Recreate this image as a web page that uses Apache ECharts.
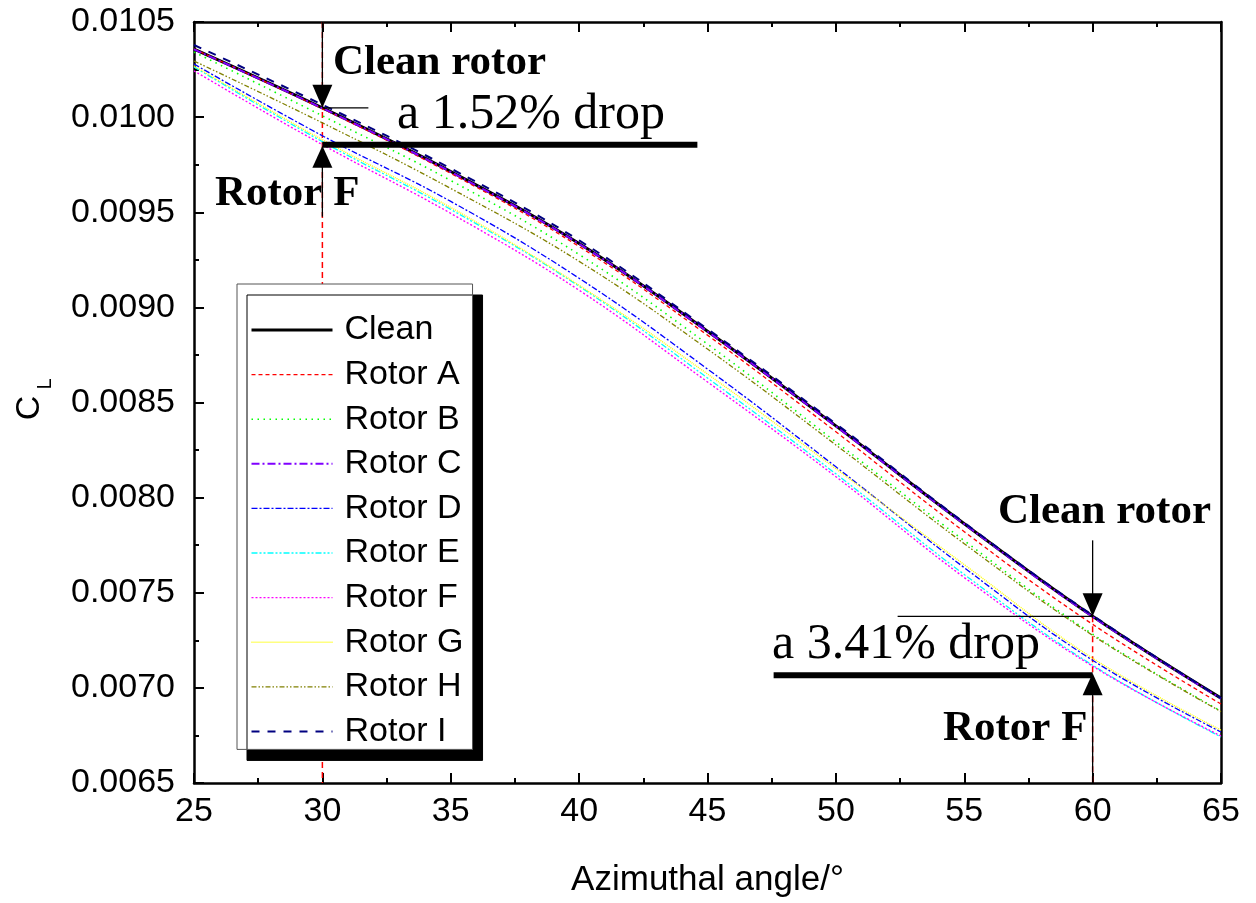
<!DOCTYPE html>
<html><head><meta charset="utf-8">
<script src="https://cdn.jsdelivr.net/npm/echarts@6/dist/echarts.min.js"></script>
<style>html,body{margin:0;padding:0;background:#fff;overflow:hidden}#c{width:1256px;height:903px}</style>
</head><body><div id="c"></div>
<script>
// Azimuthal angle (deg)
const angles = [25, 30, 35, 40, 45, 50, 55, 60, 65];
// Lift coefficient C_L per rotor
const clean  = [0.010358, 0.010049, 0.009714, 0.009336, 0.008875, 0.008377, 0.007863, 0.007376, 0.006946];
const rotorA = [0.010358, 0.010044, 0.009704, 0.009320, 0.008854, 0.008346, 0.007821, 0.007334, 0.006915];
const rotorB = [0.010342, 0.010007, 0.009667, 0.009278, 0.008807, 0.008293, 0.007774, 0.007282, 0.006878];
const rotorC = [0.010356, 0.010047, 0.009712, 0.009334, 0.008873, 0.008375, 0.007861, 0.007374, 0.006944];
const rotorD = [0.010279, 0.009902, 0.009557, 0.009153, 0.008676, 0.008162, 0.007632, 0.007145, 0.006768];
const rotorE = [0.010264, 0.009871, 0.009515, 0.009111, 0.008629, 0.008125, 0.007596, 0.007119, 0.006742];
const rotorF = [0.010243, 0.009855, 0.009494, 0.009090, 0.008608, 0.008110, 0.007580, 0.007114, 0.006747];
const rotorG = [0.010269, 0.009881, 0.009525, 0.009116, 0.008650, 0.008152, 0.007648, 0.007156, 0.006778];
const rotorH = [0.010295, 0.009970, 0.009625, 0.009242, 0.008781, 0.008277, 0.007758, 0.007276, 0.006875];
const rotorI = [0.010379, 0.010065, 0.009730, 0.009352, 0.008886, 0.008388, 0.007868, 0.007381, 0.006946];

const seriesNames = ['Clean','Rotor A','Rotor B','Rotor C','Rotor D','Rotor E','Rotor F','Rotor G','Rotor H','Rotor I'];
const seriesValues = [clean, rotorA, rotorB, rotorC, rotorD, rotorE, rotorF, rotorG, rotorH, rotorI];

const styles = [
  {color:'#000000', width:3,   type:'solid'},
  {color:'#ff0000', width:1.3, type:[4,3]},
  {color:'#00ff00', width:1.6, type:[1.5,4.5]},
  {color:'#8000ff', width:2,   type:[8,3,2,3]},
  {color:'#0000ff', width:1.3, type:[6,2,2,2]},
  {color:'#00ffff', width:1.3, type:[6,2,2,2,2,2]},
  {color:'#ff00ff', width:1.4, type:[2,2]},
  {color:'#ffff00', width:1.4, type:[1,1]},
  {color:'#808000', width:1.3, type:[5,2,1.5,2,1.5,2]},
  {color:'#000080', width:2,   type:[8,8]}
];

const SANS = '"Liberation Sans", Arial, sans-serif';
const SERIF = '"Liberation Serif", "Times New Roman", serif';

const chart = echarts.init(document.getElementById('c'), null, {renderer:'canvas'});

const axisCommon = {
  axisLine:{show:true, onZero:false, lineStyle:{color:'#000', width:2.5}},
  splitLine:{show:false}
};

chart.setOption({
  animation:false,
  backgroundColor:'#fff',
  grid:{left:194, right:35, top:22, bottom:118, containLabel:false},
  xAxis:[
    Object.assign({}, axisCommon, {
      type:'value', min:25, max:65, interval:5, position:'bottom',
      axisTick:{show:true, inside:true, length:10, lineStyle:{color:'#000', width:2}},
      minorTick:{show:true, splitNumber:2, length:5, lineStyle:{color:'#000', width:2}},
      axisLabel:{fontSize:34, color:'#000', margin:12, fontFamily:SANS},
      name:'Azimuthal angle/°', nameLocation:'middle', nameGap:80,
      nameTextStyle:{fontSize:35, color:'#000', fontFamily:SANS}
    }),
    Object.assign({}, axisCommon, {
      type:'value', min:25, max:65, interval:5, position:'top',
      axisTick:{show:true, inside:true, length:10, lineStyle:{color:'#000', width:2}},
      minorTick:{show:true, splitNumber:2, length:5, lineStyle:{color:'#000', width:2}},
      axisLabel:{show:false}
    })
  ],
  yAxis:[
    Object.assign({}, axisCommon, {
      type:'value', min:0.0065, max:0.0105, interval:0.0005, position:'left',
      axisTick:{show:true, inside:true, length:10, lineStyle:{color:'#000', width:2}},
      minorTick:{show:true, splitNumber:2, length:5, lineStyle:{color:'#000', width:2}},
      axisLabel:{fontSize:34, color:'#000', margin:19, fontFamily:SANS,
        formatter:v=>v.toFixed(4)}
    }),
    Object.assign({}, axisCommon, {
      type:'value', min:0.0065, max:0.0105, interval:0.0005, position:'right',
      axisTick:{show:false}, axisLabel:{show:false}
    })
  ],
  legend:{
    orient:'vertical', left:237, top:284,
    data:seriesNames.map((n,i)=>({name:n, lineStyle:{width:styles[i].width}})),
    itemWidth:81, itemHeight:14, itemGap:8.6,
    padding:[28,9,0,13],
    backgroundColor:'#fff', borderColor:'#555', borderWidth:1,
    shadowColor:'#000', shadowBlur:0, shadowOffsetX:10, shadowOffsetY:11,
    itemStyle:{opacity:0, color:'rgba(0,0,0,0)', borderWidth:0},
    textStyle:{fontSize:34, color:'#000', fontFamily:SANS, lineHeight:36, padding:[0,0,0,7]},
    selectedMode:false
  },
  series: seriesNames.map((n,i)=>({
    name:n, type:'line', smooth:0.4, showSymbol:false, symbol:'none',
    xAxisIndex:0, yAxisIndex:0,
    data: angles.map((a,k)=>[a, seriesValues[i][k]]),
    lineStyle:{color:styles[i].color, width:styles[i].width, type:styles[i].type},
    itemStyle:{color:styles[i].color},
    z: 2 + i*0.01
  }))
});

// Annotations anchored on the data scales
const P = (x,y)=>chart.convertToPixel({gridIndex:0},[x,y]);
const cL = P(30, clean[1]);
const fL = P(30, rotorF[1]);
const cR = P(60, clean[7]);
const fR = P(60, rotorF[7]);
const yTop = P(30, 0.0105)[1];
const yBot = P(30, 0.0065)[1];

function line(x1,y1,x2,y2,stroke,w,dash,z){
  return {type:'line', z:z||5, shape:{x1,y1,x2,y2}, style:{stroke, lineWidth:w, lineDash:dash||null}, silent:true};
}
function tri(pts,z){
  return {type:'polygon', z:z||6, shape:{points:pts}, style:{fill:'#000'}, silent:true};
}
function txt(s,x,y,size,bold){
  return {type:'text', z:7, x, y, style:{text:s, font:(bold?'bold ':'')+size+'px '+SERIF, fill:'#000', align:'left', verticalAlign:'middle'}, silent:true};
}

const g = [];
// left annotation (30 deg)
const xl = cL[0];
g.push(line(xl, yTop, xl, yBot, '#ff0000', 1.5, [6,4], 1));
g.push(line(xl, yTop, xl, cL[1]-20, '#000', 1.3));
g.push(tri([[xl-10, cL[1]-23],[xl+10, cL[1]-23],[xl, cL[1]]]));
g.push(line(xl, cL[1], xl+46, cL[1], '#000', 1.3));
g.push(line(xl, fL[1], xl+375, fL[1], '#000', 6));
g.push(tri([[xl, fL[1]+1],[xl-10, fL[1]+23],[xl+10, fL[1]+23]]));
g.push(line(xl, fL[1]+20, xl, fL[1]+72, '#000', 1.3));
g.push(txt('Clean rotor', 333, 63, 43, true));
g.push(txt('a 1.52% drop', 397, 115, 50, false));
g.push(txt('Rotor F', 215, 194, 43, true));
// right annotation (60 deg)
const xr = cR[0];
const barR = fR[1] + 9;
g.push(line(xr, cR[1], xr, yBot, '#ff0000', 1.5, [6,4], 1));
g.push(line(xr, cR[1]-76, xr, cR[1]-20, '#000', 1.3));
g.push(tri([[xr-10, cR[1]-23],[xr+10, cR[1]-23],[xr, cR[1]]]));
g.push(line(xr-195, cR[1], xr, cR[1], '#000', 1.3));
g.push(line(xr-319, barR, xr, barR, '#000', 6));
g.push(tri([[xr, barR-2],[xr-10, barR+20],[xr+10, barR+20]]));
g.push(line(xr, barR+18, xr, yBot, '#000', 1.3));
g.push(txt('Clean rotor', 998, 512, 43, true));
g.push(txt('a 3.41% drop', 772, 645, 50, false));
g.push(txt('Rotor F', 943, 729, 43, true));
// y-axis name C_L (rotated)
g.push({type:'text', z:7, x:30, y:408, rotation:Math.PI/2,
  style:{text:'C', font:'34px '+SANS, fill:'#000', align:'center', verticalAlign:'middle'}, silent:true});
g.push({type:'text', z:7, x:45, y:384, rotation:Math.PI/2,
  style:{text:'L', font:'20px '+SANS, fill:'#000', align:'center', verticalAlign:'middle'}, silent:true});

chart.setOption({graphic:g});
</script>
</body></html>
